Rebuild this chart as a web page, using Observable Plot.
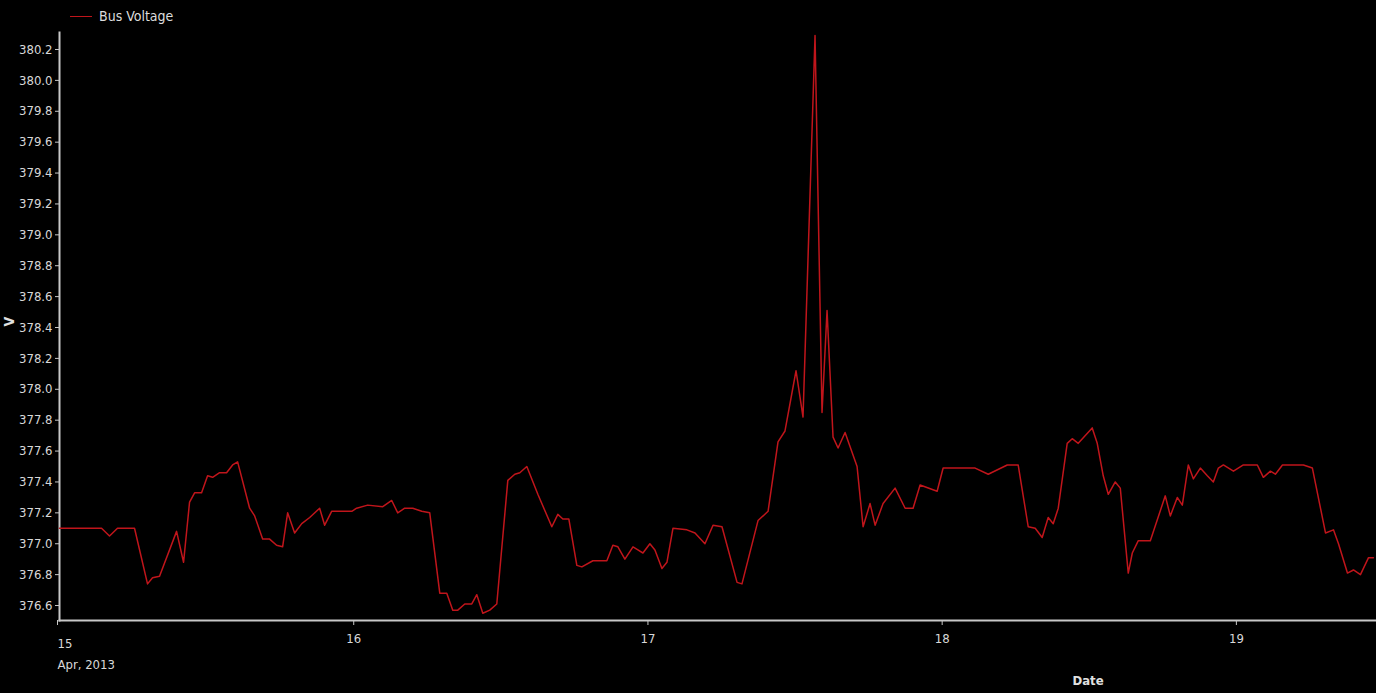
<!DOCTYPE html>
<html>
<head>
<meta charset="utf-8">
<script src="https://cdn.jsdelivr.net/npm/d3@7"></script>
<script src="https://cdn.jsdelivr.net/npm/@observablehq/plot@0.6"></script>
<style>
  body { margin: 0; background: #000; overflow: hidden; }
  #legend { position: relative; height: 26px; color: #ddd;
    font: 14px "DejaVu Sans Condensed", "Liberation Sans Narrow", sans-serif; font-stretch: condensed; }
  #legend .swatch { position: absolute; left: 70px; top: 16px; width: 22px; border-top: 1.5px solid #c0151b; }
  #legend .name { position: absolute; left: 99px; top: 8px; }
</style>
</head>
<body>
<div id="legend"><span class="swatch"></span><span class="name"></span></div>
<div id="chart"></div>
<script>
// Bus voltage readings, hours elapsed since 15 Apr 2013 00:00 UTC
const seriesName = "Bus Voltage";
const hours = [0, 3.43, 4.08, 4.73, 6.12, 7.18, 7.59, 8.16, 9.55, 10.12, 10.61, 11.02, 11.59, 12.08, 12.49, 13.06, 13.63, 14.12, 14.53, 15.51,
  15.92, 16.57, 17.14, 17.71, 18.20, 18.61, 19.18, 19.76, 20.41, 21.22, 21.63, 22.20, 23.02, 23.84, 24.24, 25.14, 26.37, 27.10, 27.59, 28.16,
  28.82, 29.55, 30.20, 31.02, 31.59, 32.08, 32.49, 33.06, 33.63, 34.04, 34.53, 35.10, 35.67, 36.57, 37.14, 37.55, 38.12, 39.02, 40.16, 40.65,
  41.06, 41.55, 42.20, 42.61, 43.51, 44.65, 45.14, 45.55, 46.12, 46.78, 47.18, 47.59, 48.16, 48.57, 49.14, 49.55, 50.04, 51.18, 51.84, 52.65,
  53.31, 54.04, 55.27, 55.67, 56.98, 57.80, 58.61, 59.18, 60.08, 60.65, 61.63, 62.20, 62.61, 63.10, 63.51, 64.08, 65.06, 65.55, 66.12, 66.53,
  67.18, 68.16, 68.98, 69.63, 70.20, 71.59, 72.08, 73.47, 74.69, 75.76, 77.31, 78.20, 79.02, 79.59, 80.16, 80.65, 81.06, 81.47, 82.20, 82.61,
  83.10, 84.24, 84.65, 85.14, 85.55, 86.12, 86.53, 87.18, 87.51, 88.00, 88.98, 90.20, 90.61, 91.18, 91.59, 92.08, 92.49, 93.06, 93.63, 94.12,
  94.53, 94.94, 95.76, 96.57, 97.71, 98.20, 98.78, 99.18, 99.76, 101.47, 102.20, 103.27, 103.92, 104.33, 105.06, 105.55, 106.12, 106.78, 107.18];
const volts = [377.10, 377.10, 377.05, 377.10, 377.10, 376.74, 376.78, 376.79, 377.08, 376.88, 377.27, 377.33, 377.33, 377.44, 377.43, 377.46, 377.46, 377.51, 377.53, 377.23,
  377.18, 377.03, 377.03, 376.99, 376.98, 377.20, 377.07, 377.13, 377.17, 377.23, 377.12, 377.21, 377.21, 377.21, 377.23, 377.25, 377.24, 377.28, 377.20, 377.23,
  377.23, 377.21, 377.20, 376.68, 376.68, 376.57, 376.57, 376.61, 376.61, 376.67, 376.55, 376.57, 376.61, 377.41, 377.45, 377.46, 377.50, 377.32, 377.11, 377.19,
  377.16, 377.16, 376.86, 376.85, 376.89, 376.89, 376.99, 376.98, 376.90, 376.98, 376.96, 376.94, 377.00, 376.96, 376.84, 376.88, 377.10, 377.09, 377.07, 377.00,
  377.12, 377.11, 376.75, 376.74, 377.15, 377.21, 377.66, 377.73, 378.12, 377.82, 380.29, 377.85, 378.51, 377.69, 377.62, 377.72, 377.50, 377.11, 377.26, 377.12,
  377.26, 377.36, 377.23, 377.23, 377.38, 377.34, 377.49, 377.49, 377.49, 377.45, 377.51, 377.51, 377.11, 377.10, 377.04, 377.17, 377.13, 377.23, 377.65, 377.68,
  377.65, 377.75, 377.65, 377.44, 377.32, 377.40, 377.36, 376.81, 376.94, 377.02, 377.02, 377.31, 377.18, 377.30, 377.25, 377.51, 377.42, 377.49, 377.44, 377.40,
  377.49, 377.51, 377.47, 377.51, 377.51, 377.43, 377.47, 377.45, 377.51, 377.51, 377.49, 377.07, 377.09, 377.00, 376.81, 376.83, 376.80, 376.91, 376.91];
const dayTicks = ["2013-04-15", "2013-04-16", "2013-04-17", "2013-04-18", "2013-04-19"];
const voltTicks = [376.6, 376.8, 377.0, 377.2, 377.4, 377.6, 377.8, 378.0, 378.2, 378.4, 378.6, 378.8, 379.0, 379.2, 379.4, 379.6, 379.8, 380.0, 380.2];
const firstDayLabel = "15\nApr, 2013";
const xTitle = "Date";
const yTitle = "V";

const start = Date.UTC(2013, 3, 15);
const HOUR = 36e5;
const data = hours.map((h, i) => ({ time: new Date(start + h * HOUR), volt: volts[i] }));
const days = dayTicks.map(d => new Date(d + "T00:00:00Z"));

document.querySelector("#legend .name").textContent = seriesName;

const font = '"DejaVu Sans Condensed", "Liberation Sans Narrow", sans-serif';
const lineColor = "#c0151b";
const axisColor = "#c8c8c8";

const chart = Plot.plot({
  width: 1376,
  height: 667,
  marginLeft: 59,
  marginRight: 0,
  marginTop: 6,
  marginBottom: 73,
  style: { background: "#000", color: "#d8d8d8", fontFamily: font, fontSize: "13px", fontStretch: "condensed" },
  x: { type: "utc", domain: [new Date(start), new Date(start + 107.43 * HOUR)] },
  y: { domain: [376.503, 380.31] },
  marks: [
    Plot.frame({ anchor: "left", stroke: axisColor, strokeWidth: 2 }),
    Plot.frame({ anchor: "bottom", stroke: axisColor, strokeWidth: 2 }),
    Plot.axisY({ ticks: voltTicks, tickFormat: d => d.toFixed(1), tickSize: 4, tickPadding: 3, stroke: axisColor, label: null }),
    Plot.axisX({ ticks: days.slice(0, 1), tickFormat: () => firstDayLabel, tickSize: 5, tickPadding: 8,
      textAnchor: "start", dx: -2, lineHeight: 1.6, stroke: axisColor, label: null }),
    Plot.axisX({ ticks: days.slice(1), tickFormat: d => String(d.getUTCDate()), tickSize: 5, tickPadding: 8,
      stroke: axisColor, label: null }),
    Plot.text([yTitle], { frameAnchor: "left", rotate: -90, dx: -50, fontWeight: "bold", fontSize: 14, fill: "#e0e0e0" }),
    Plot.text([xTitle], { frameAnchor: "bottom-left", dx: 1013, dy: 64, fontWeight: "bold", fontSize: 13, fill: "#e0e0e0" }),
    Plot.lineY(data, { x: "time", y: "volt", stroke: lineColor, strokeWidth: 1.5 })
  ]
});
document.getElementById("chart").append(chart);
</script>
</body>
</html>
